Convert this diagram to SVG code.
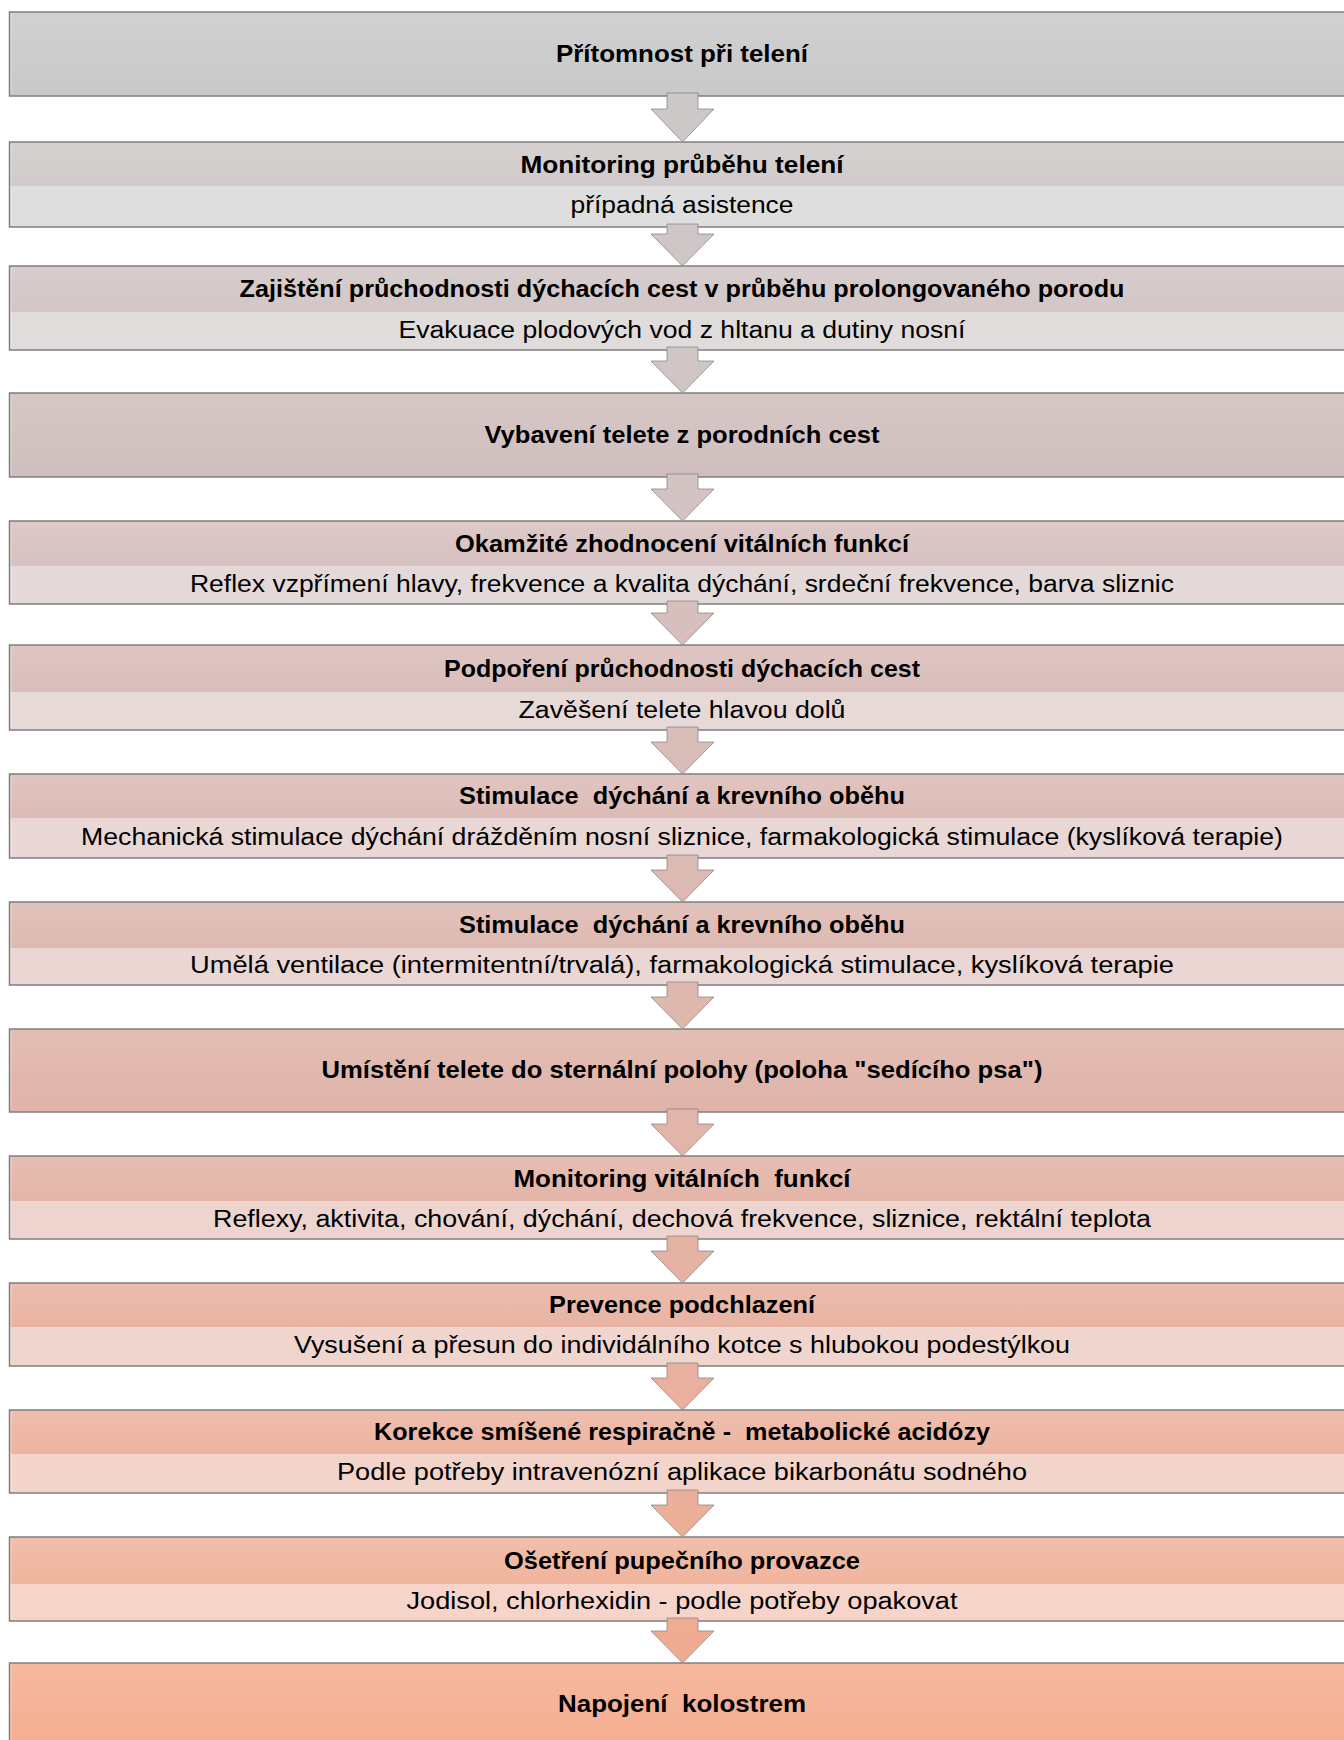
<svg xmlns="http://www.w3.org/2000/svg" width="1344" height="1740" viewBox="0 0 1344 1740">
<defs>
<linearGradient id="shine" x1="0" y1="0" x2="0" y2="1">
<stop offset="0" stop-color="#ffffff" stop-opacity="0.14"/>
<stop offset="1" stop-color="#ffffff" stop-opacity="0"/>
</linearGradient>
<linearGradient id="arrowGrad" gradientUnits="userSpaceOnUse" x1="0" y1="0" x2="0" y2="1740">
<stop offset="0" stop-color="#cacaca"/>
<stop offset="0.25" stop-color="#d2c4c4"/>
<stop offset="0.5" stop-color="#dbbab3"/>
<stop offset="0.75" stop-color="#e6b2a2"/>
<stop offset="1" stop-color="#f2aa8c"/>
</linearGradient>
</defs>
<style>
.t{font-family:"Liberation Sans",Arial,sans-serif;font-size:23px;font-weight:bold;fill:#000;text-anchor:middle;white-space:pre}
.s{font-family:"Liberation Sans",Arial,sans-serif;font-size:23px;fill:#000;text-anchor:middle;white-space:pre}
.outline{fill:none;stroke:#7f7f7f;stroke-width:1.5}
.hl{stroke:#ffffff;stroke-opacity:0.5;stroke-width:1}
.arrow{fill:url(#arrowGrad);stroke:#8a8080;stroke-opacity:0.75;stroke-width:1}
</style>
<rect x="0" y="0" width="1344" height="1740" fill="#ffffff"/>

<g id="n1">
<rect x="9.5" y="12" width="1345" height="84" fill="#c9c9c9"/>
<rect x="9.5" y="12" width="1345" height="84" fill="url(#shine)"/>
<line class="hl" x1="11" y1="14" x2="11" y2="94"/>
<rect class="outline" x="9.5" y="12" width="1345" height="84"/>
<text class="t" x="682" y="62" textLength="252" lengthAdjust="spacingAndGlyphs">Přítomnost při telení</text>
</g>

<g id="n2">
<rect x="9.5" y="142" width="1345" height="44" fill="#d0caca"/>
<rect x="9.5" y="142" width="1345" height="44" fill="url(#shine)"/>
<rect x="9.5" y="186" width="1345" height="41" fill="#dedede"/>
<line class="hl" x1="11" y1="144" x2="11" y2="225"/>
<rect class="outline" x="9.5" y="142" width="1345" height="85"/>
<text class="t" x="682" y="172.5" textLength="323" lengthAdjust="spacingAndGlyphs">Monitoring průběhu telení</text>
<text class="s" x="682" y="212.5" textLength="223" lengthAdjust="spacingAndGlyphs">případná asistence</text>
</g>

<g id="n3">
<rect x="9.5" y="266" width="1345" height="46" fill="#d2c6c6"/>
<rect x="9.5" y="266" width="1345" height="46" fill="url(#shine)"/>
<rect x="9.5" y="312" width="1345" height="38" fill="#e0dcdc"/>
<line class="hl" x1="11" y1="268" x2="11" y2="348"/>
<rect class="outline" x="9.5" y="266" width="1345" height="84"/>
<text class="t" x="682" y="297" textLength="885" lengthAdjust="spacingAndGlyphs">Zajištění průchodnosti dýchacích cest v průběhu prolongovaného porodu</text>
<text class="s" x="682" y="337.5" textLength="567" lengthAdjust="spacingAndGlyphs">Evakuace plodových vod z hltanu a dutiny nosní</text>
</g>

<g id="n4">
<rect x="9.5" y="393" width="1345" height="84" fill="#d0bebe"/>
<rect x="9.5" y="393" width="1345" height="84" fill="url(#shine)"/>
<line class="hl" x1="11" y1="395" x2="11" y2="475"/>
<rect class="outline" x="9.5" y="393" width="1345" height="84"/>
<text class="t" x="682" y="443" textLength="395" lengthAdjust="spacingAndGlyphs">Vybavení telete z porodních cest</text>
</g>

<g id="n5">
<rect x="9.5" y="521" width="1345" height="45" fill="#d7c1c0"/>
<rect x="9.5" y="521" width="1345" height="45" fill="url(#shine)"/>
<rect x="9.5" y="566" width="1345" height="38" fill="#e4d9d9"/>
<line class="hl" x1="11" y1="523" x2="11" y2="602"/>
<rect class="outline" x="9.5" y="521" width="1345" height="83"/>
<text class="t" x="682" y="551.5" textLength="454" lengthAdjust="spacingAndGlyphs">Okamžité zhodnocení vitálních funkcí</text>
<text class="s" x="682" y="591.5" textLength="984" lengthAdjust="spacingAndGlyphs">Reflex vzpřímení hlavy, frekvence a kvalita dýchání, srdeční frekvence, barva sliznic</text>
</g>

<g id="n6">
<rect x="9.5" y="645" width="1345" height="47" fill="#d9bdba"/>
<rect x="9.5" y="645" width="1345" height="47" fill="url(#shine)"/>
<rect x="9.5" y="692" width="1345" height="38" fill="#e6d9d8"/>
<line class="hl" x1="11" y1="647" x2="11" y2="728"/>
<rect class="outline" x="9.5" y="645" width="1345" height="85"/>
<text class="t" x="682" y="676.5" textLength="476" lengthAdjust="spacingAndGlyphs">Podpoření průchodnosti dýchacích cest</text>
<text class="s" x="682" y="717.5" textLength="327" lengthAdjust="spacingAndGlyphs">Zavěšení telete hlavou dolů</text>
</g>

<g id="n7">
<rect x="9.5" y="774" width="1345" height="44" fill="#dcbbb6"/>
<rect x="9.5" y="774" width="1345" height="44" fill="url(#shine)"/>
<rect x="9.5" y="818" width="1345" height="40" fill="#e8d7d5"/>
<line class="hl" x1="11" y1="776" x2="11" y2="856"/>
<rect class="outline" x="9.5" y="774" width="1345" height="84"/>
<text class="t" x="682" y="804" textLength="446" lengthAdjust="spacingAndGlyphs">Stimulace  dýchání a krevního oběhu</text>
<text class="s" x="682" y="844.5" textLength="1202" lengthAdjust="spacingAndGlyphs">Mechanická stimulace dýchání drážděním nosní sliznice, farmakologická stimulace (kyslíková terapie)</text>
</g>

<g id="n8">
<rect x="9.5" y="902" width="1345" height="46" fill="#ddb9b1"/>
<rect x="9.5" y="902" width="1345" height="46" fill="url(#shine)"/>
<rect x="9.5" y="948" width="1345" height="37" fill="#ead6d2"/>
<line class="hl" x1="11" y1="904" x2="11" y2="983"/>
<rect class="outline" x="9.5" y="902" width="1345" height="83"/>
<text class="t" x="682" y="933" textLength="446" lengthAdjust="spacingAndGlyphs">Stimulace  dýchání a krevního oběhu</text>
<text class="s" x="682" y="973" textLength="984" lengthAdjust="spacingAndGlyphs">Umělá ventilace (intermitentní/trvalá), farmakologická stimulace, kyslíková terapie</text>
</g>

<g id="n9">
<rect x="9.5" y="1029" width="1345" height="83" fill="#dfb3a8"/>
<rect x="9.5" y="1029" width="1345" height="83" fill="url(#shine)"/>
<line class="hl" x1="11" y1="1031" x2="11" y2="1110"/>
<rect class="outline" x="9.5" y="1029" width="1345" height="83"/>
<text class="t" x="682" y="1078" textLength="721" lengthAdjust="spacingAndGlyphs">Umístění telete do sternální polohy (poloha "sedícího psa")</text>
</g>

<g id="n10">
<rect x="9.5" y="1156" width="1345" height="45" fill="#e4b4a7"/>
<rect x="9.5" y="1156" width="1345" height="45" fill="url(#shine)"/>
<rect x="9.5" y="1201" width="1345" height="38" fill="#edd4cf"/>
<line class="hl" x1="11" y1="1158" x2="11" y2="1237"/>
<rect class="outline" x="9.5" y="1156" width="1345" height="83"/>
<text class="t" x="682" y="1186.5" textLength="337" lengthAdjust="spacingAndGlyphs">Monitoring vitálních  funkcí</text>
<text class="s" x="682" y="1226.5" textLength="938" lengthAdjust="spacingAndGlyphs">Reflexy, aktivita, chování, dýchání, dechová frekvence, sliznice, rektální teplota</text>
</g>

<g id="n11">
<rect x="9.5" y="1283" width="1345" height="44" fill="#e8b3a2"/>
<rect x="9.5" y="1283" width="1345" height="44" fill="url(#shine)"/>
<rect x="9.5" y="1327" width="1345" height="39" fill="#efd5cd"/>
<line class="hl" x1="11" y1="1285" x2="11" y2="1364"/>
<rect class="outline" x="9.5" y="1283" width="1345" height="83"/>
<text class="t" x="682" y="1313" textLength="266" lengthAdjust="spacingAndGlyphs">Prevence podchlazení</text>
<text class="s" x="682" y="1353" textLength="776" lengthAdjust="spacingAndGlyphs">Vysušení a přesun do individálního kotce s hlubokou podestýlkou</text>
</g>

<g id="n12">
<rect x="9.5" y="1410" width="1345" height="44" fill="#ecb4a0"/>
<rect x="9.5" y="1410" width="1345" height="44" fill="url(#shine)"/>
<rect x="9.5" y="1454" width="1345" height="39" fill="#f2d4cb"/>
<line class="hl" x1="11" y1="1412" x2="11" y2="1491"/>
<rect class="outline" x="9.5" y="1410" width="1345" height="83"/>
<text class="t" x="682" y="1440" textLength="616" lengthAdjust="spacingAndGlyphs">Korekce smíšené respiračně -  metabolické acidózy</text>
<text class="s" x="682" y="1480" textLength="690" lengthAdjust="spacingAndGlyphs">Podle potřeby intravenózní aplikace bikarbonátu sodného</text>
</g>

<g id="n13">
<rect x="9.5" y="1537" width="1345" height="47" fill="#f0b49d"/>
<rect x="9.5" y="1537" width="1345" height="47" fill="url(#shine)"/>
<rect x="9.5" y="1584" width="1345" height="37" fill="#f6d4c9"/>
<line class="hl" x1="11" y1="1539" x2="11" y2="1619"/>
<rect class="outline" x="9.5" y="1537" width="1345" height="84"/>
<text class="t" x="682" y="1568.5" textLength="356" lengthAdjust="spacingAndGlyphs">Ošetření pupečního provazce</text>
<text class="s" x="682" y="1609" textLength="551" lengthAdjust="spacingAndGlyphs">Jodisol, chlorhexidin - podle potřeby opakovat</text>
</g>

<g id="n14">
<rect x="9.5" y="1663" width="1345" height="84" fill="#f5ad90"/>
<rect x="9.5" y="1663" width="1345" height="84" fill="url(#shine)"/>
<line class="hl" x1="11" y1="1665" x2="11" y2="1745"/>
<rect class="outline" x="9.5" y="1663" width="1345" height="84"/>
<text class="t" x="682" y="1712" textLength="248" lengthAdjust="spacingAndGlyphs">Napojení  kolostrem</text>
</g>

<g id="connectors">
<path class="arrow" d="M667,93 H698 V109 H714 L682.5,142 L651,109 H667 Z"/>
<path class="arrow" d="M667,224 H698 V234 H714 L682.5,266 L651,234 H667 Z"/>
<path class="arrow" d="M667,347 H698 V361 H714 L682.5,393 L651,361 H667 Z"/>
<path class="arrow" d="M667,474 H698 V489 H714 L682.5,521 L651,489 H667 Z"/>
<path class="arrow" d="M667,601 H698 V613 H714 L682.5,645 L651,613 H667 Z"/>
<path class="arrow" d="M667,727 H698 V742 H714 L682.5,774 L651,742 H667 Z"/>
<path class="arrow" d="M667,855 H698 V870 H714 L682.5,902 L651,870 H667 Z"/>
<path class="arrow" d="M667,982 H698 V997 H714 L682.5,1029 L651,997 H667 Z"/>
<path class="arrow" d="M667,1109 H698 V1124 H714 L682.5,1156 L651,1124 H667 Z"/>
<path class="arrow" d="M667,1236 H698 V1251 H714 L682.5,1283 L651,1251 H667 Z"/>
<path class="arrow" d="M667,1363 H698 V1378 H714 L682.5,1410 L651,1378 H667 Z"/>
<path class="arrow" d="M667,1490 H698 V1505 H714 L682.5,1537 L651,1505 H667 Z"/>
<path class="arrow" d="M667,1618 H698 V1631 H714 L682.5,1663 L651,1631 H667 Z"/>
</g>
</svg>
